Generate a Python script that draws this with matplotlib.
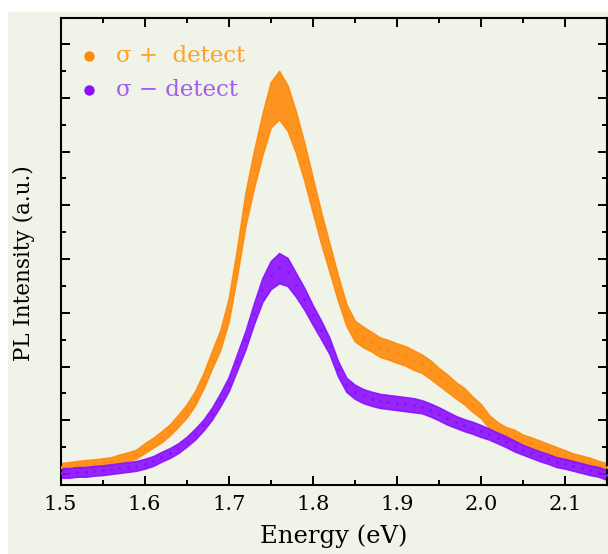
import matplotlib
matplotlib.use("Agg")
import matplotlib.pyplot as plt
from matplotlib.patches import Rectangle
from matplotlib.ticker import MultipleLocator, FormatStrFormatter

# Photon energy grid (eV)
energy = [1.50, 1.51, 1.52, 1.53, 1.54, 1.55, 1.56, 1.57, 1.58, 1.59,
          1.60, 1.61, 1.62, 1.63, 1.64, 1.65, 1.66, 1.67, 1.68, 1.69,
          1.70, 1.71, 1.72, 1.73, 1.74, 1.75, 1.76, 1.77, 1.78, 1.79,
          1.80, 1.81, 1.82, 1.83, 1.84, 1.85, 1.86, 1.87, 1.88, 1.89,
          1.90, 1.91, 1.92, 1.93, 1.94, 1.95, 1.96, 1.97, 1.98, 1.99,
          2.00, 2.01, 2.02, 2.03, 2.04, 2.05, 2.06, 2.07, 2.08, 2.09,
          2.10, 2.11, 2.12, 2.13, 2.14, 2.15]

# sigma+ detection: mean PL intensity and scatter half-width (a.u.)
pl_plus = [0.13, 0.15, 0.17, 0.19, 0.20, 0.22, 0.24, 0.28, 0.32, 0.37,
           0.48, 0.58, 0.69, 0.82, 0.99, 1.17, 1.41, 1.73, 2.12, 2.49,
           3.05, 3.94, 4.93, 5.66, 6.31, 6.87, 7.05, 6.81, 6.36, 5.81,
           5.19, 4.58, 4.02, 3.46, 2.96, 2.66, 2.55, 2.46, 2.36, 2.31,
           2.25, 2.20, 2.12, 2.05, 1.94, 1.81, 1.69, 1.56, 1.45, 1.30,
           1.17, 0.97, 0.84, 0.76, 0.71, 0.63, 0.58, 0.52, 0.47, 0.41,
           0.35, 0.30, 0.26, 0.22, 0.17, 0.13]
spread_plus = [0.07, 0.07, 0.07, 0.07, 0.07, 0.07, 0.07, 0.08, 0.08, 0.08,
               0.09, 0.09, 0.10, 0.10, 0.11, 0.12, 0.13, 0.14, 0.16, 0.18,
               0.21, 0.25, 0.30, 0.34, 0.38, 0.42, 0.45, 0.42, 0.38, 0.35,
               0.32, 0.29, 0.26, 0.23, 0.20, 0.19, 0.19, 0.18, 0.18, 0.18,
               0.18, 0.18, 0.18, 0.17, 0.17, 0.16, 0.16, 0.15, 0.15, 0.14,
               0.13, 0.12, 0.12, 0.11, 0.11, 0.10, 0.10, 0.10, 0.09, 0.09,
               0.09, 0.08, 0.08, 0.08, 0.07, 0.07]

# sigma- detection: mean PL intensity and scatter half-width (a.u.)
pl_minus = [0.02, 0.02, 0.04, 0.04, 0.06, 0.07, 0.09, 0.11, 0.13, 0.15,
            0.19, 0.24, 0.32, 0.39, 0.48, 0.60, 0.74, 0.91, 1.12, 1.38,
            1.67, 2.08, 2.49, 2.98, 3.42, 3.70, 3.83, 3.76, 3.52, 3.26,
            2.96, 2.68, 2.38, 1.96, 1.66, 1.53, 1.45, 1.40, 1.36, 1.34,
            1.32, 1.30, 1.28, 1.25, 1.19, 1.12, 1.04, 0.97, 0.91, 0.86,
            0.80, 0.74, 0.67, 0.60, 0.52, 0.45, 0.39, 0.33, 0.28, 0.22,
            0.19, 0.15, 0.11, 0.07, 0.04, -0.02]
spread_minus = [0.09, 0.09, 0.09, 0.09, 0.09, 0.09, 0.09, 0.09, 0.09, 0.09,
                0.09, 0.09, 0.09, 0.09, 0.09, 0.09, 0.10, 0.10, 0.11, 0.12,
                0.13, 0.15, 0.17, 0.19, 0.22, 0.26, 0.28, 0.26, 0.22, 0.20,
                0.18, 0.17, 0.15, 0.14, 0.13, 0.13, 0.13, 0.13, 0.13, 0.13,
                0.13, 0.13, 0.13, 0.12, 0.12, 0.12, 0.12, 0.11, 0.11, 0.11,
                0.11, 0.10, 0.10, 0.10, 0.10, 0.09, 0.09, 0.09, 0.09, 0.09,
                0.09, 0.09, 0.09, 0.09, 0.09, 0.09]

labels = ["σ +  detect", "σ − detect"]
dot_colors = ["#ff8a0a", "#8a10ff"]
text_colors = ["#ffa02a", "#a35cf0"]

bg = "#f0f3e8"
plt.rcParams["font.family"] = ["DejaVu Serif"]

fig = plt.figure(figsize=(6.08, 5.54), dpi=100, facecolor="white")
fig.patches.append(Rectangle((8 / 608, 0), 1, 1 - 12 / 554, transform=fig.transFigure,
                             facecolor=bg, edgecolor="none", zorder=-10))
ax = fig.add_axes([60.5 / 608, 69 / 554, 546.5 / 608, 467 / 554])
ax.set_facecolor(bg)

series = [(pl_plus, spread_plus), (pl_minus, spread_minus)]
for (vals, spr), col in zip(series, dot_colors):
    lo = [v - s for v, s in zip(vals, spr)]
    hi = [v + s for v, s in zip(vals, spr)]
    ax.fill_between(energy, lo, hi, color=col, lw=1.2, edgecolor=col,
                    alpha=0.9, zorder=2)
    ax.scatter(energy, vals, s=5, color=col, zorder=3, linewidths=0)

ax.set_xlim(1.5, 2.15)
ax.set_ylim(-0.205, 8.485)
ax.xaxis.set_major_locator(MultipleLocator(0.1))
ax.xaxis.set_minor_locator(MultipleLocator(0.05))
ax.yaxis.set_major_locator(MultipleLocator(1.0))
ax.yaxis.set_minor_locator(MultipleLocator(0.5))
ax.tick_params(which="both", direction="in", top=True, right=True, width=1.4)
ax.tick_params(which="major", length=6.5)
ax.tick_params(which="minor", length=3.5)
ax.tick_params(axis="x", labelsize=15, pad=7)
ax.tick_params(axis="y", labelleft=False)
ax.xaxis.set_major_formatter(FormatStrFormatter("%.1f"))
for sp in ax.spines.values():
    sp.set_linewidth(1.5)

ax.set_xlabel("Energy (eV)", fontsize=17.5, labelpad=8)
ax.set_ylabel("PL Intensity (a.u.)", fontsize=15.5)
ax.yaxis.set_label_coords(-0.047, 0.475)

# Legend entries: coloured dot followed by coloured label
legend_y = [0.9186, 0.846]
for lab, dc, tc, yy in zip(labels, dot_colors, text_colors, legend_y):
    ax.plot([0.052], [yy], ls="none", marker="o", markersize=7.5,
            markerfacecolor=dc, markeredgecolor="none", transform=ax.transAxes,
            zorder=5)
    ax.text(0.1016, yy, lab, color=tc, fontsize=16.5, va="center", ha="left",
            transform=ax.transAxes, zorder=5)

fig.savefig("out.png", dpi=100, facecolor="white")
